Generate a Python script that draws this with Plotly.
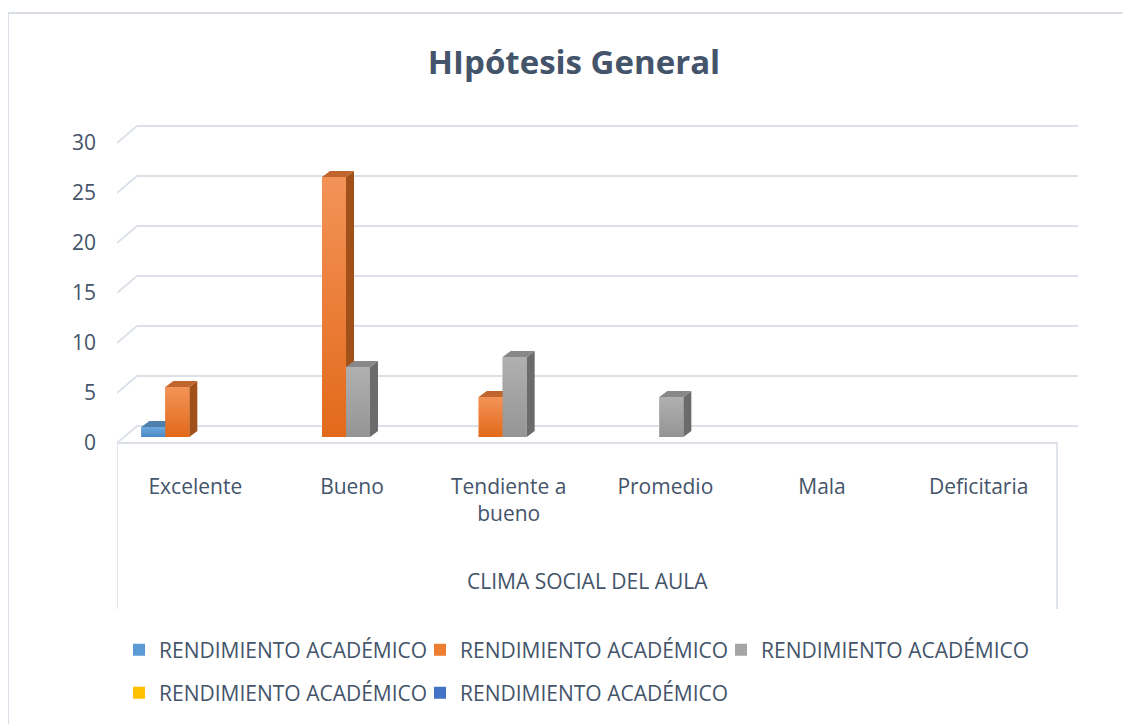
import plotly.graph_objects as go

# ---------------- data ----------------
categories = ["Excelente", "Bueno", "Tendiente a<br>bueno", "Promedio", "Mala", "Deficitaria"]
series_names = ["RENDIMIENTO ACADÉMICO"] * 5
s1 = [1, 0, 0, 0, 0, 0]
s2 = [5, 26, 4, 0, 0, 0]
s3 = [0, 7, 8, 4, 0, 0]
s4 = [0, 0, 0, 0, 0, 0]
s5 = [0, 0, 0, 0, 0, 0]
series_values = [s1, s2, s3, s4, s5]
y_ticks = [0, 5, 10, 15, 20, 25, 30]
title_text = "HIpótesis General"
x_title = "CLIMA SOCIAL DEL AULA"

# ---------------- styles ----------------
front_cols = ["#5B9BD5", "#ED7D31", "#A5A5A5", "#FFC000", "#4472C4"]
front_top = ["#6EA9DE", "#F39358", "#B0B0B0", "#FFCB33", "#5A86D0"]
front_bot = ["#4A89C6", "#E2691A", "#959595", "#EBB000", "#3A64B0"]
side_cols = ["#3C6E9C", "#A1501A", "#6B6B6B", "#B58800", "#2E4F8C"]
topf_cols = ["#4F80AD", "#C1652E", "#888888", "#CC9A00", "#3A5E9E"]
TXT = "#44546A"
GRID = "#DCE1E9"
FONT = "Open Sans"
FS = 21

OFF = 8  # page body margin
W, H = 1131, 724
# plot area in page coordinates
PL, PR, PT, PB = 117, 1078, 123, 613
L = PL - OFF
T = PT - OFF
R = W - (PR - OFF)
B = H - (PB - OFF)
PW = PR - PL
PH = PB - PT
PXX = 156.67          # px per category
PXY = 10.0            # px per value unit
bar_w = 24 / PXX
ddx, ddy = 8 / PXX, 0.6           # bar depth projection
bdx, bdy = 20 / PXX, 1.7          # floor depth projection
base0 = 0.6
x_end = PW / PXX
y_lo = -17.0
y_hi = y_lo + PH / PXY

def py(page_y):
    return (PB - page_y) / PH

def px(page_x):
    return (page_x - PL) / PW

fig = go.Figure()

# back gridlines + left diagonals
gx, gy = [], []
for v in y_ticks:
    gx += [0, bdx, x_end, None]
    gy += [v, v + bdy, v + bdy, None]
fig.add_trace(go.Scatter(x=gx, y=gy, mode="lines", line=dict(color=GRID, width=1.8),
                         hoverinfo="skip", showlegend=False))
# floor front edge / category box
fig.add_trace(go.Scatter(x=[0, 0, len(categories), len(categories)],
                         y=[-16.6, 0, 0, -16.6], mode="lines",
                         line=dict(color=GRID, width=1.8), hoverinfo="skip", showlegend=False))

xc = [i + 0.5 for i in range(len(categories))]

def offs(k):
    return (6 + (k - 2) * 24) / PXX - bar_w / 2

legend_ids = ["legend", "legend2", "legend3", "legend4", "legend5"]
# text start positions (page px) for each legend entry
legend_pos = [(159, 650), (460, 650), (761, 650), (159, 693), (460, 693)]

# bar traces (legend + front faces)
for k, vals in enumerate(series_values):
    fig.add_trace(go.Bar(x=xc, y=vals, base=base0, width=bar_w, offset=offs(k),
                         marker=dict(color=front_cols[k], line=dict(width=0)),
                         name=series_names[k], legend=legend_ids[k]))

# 3D faces (painter's order)
for i in range(len(categories)):
    for k, vals in enumerate(series_values):
        v = vals[i]
        if v == 0:
            continue
        x0 = xc[i] + offs(k)
        x1 = x0 + bar_w
        y0 = base0
        y1 = base0 + v
        fig.add_trace(go.Scatter(x=[x1, x1 + ddx, x1 + ddx, x1, x1],
                                 y=[y0, y0 + ddy, y1 + ddy, y1, y0],
                                 fill="toself", fillcolor=side_cols[k], mode="lines",
                                 line=dict(width=0, color=side_cols[k]),
                                 hoverinfo="skip", showlegend=False))
        fig.add_trace(go.Scatter(x=[x0, x0 + ddx, x1 + ddx, x1, x0],
                                 y=[y1, y1 + ddy, y1 + ddy, y1, y1],
                                 fill="toself", fillcolor=topf_cols[k], mode="lines",
                                 line=dict(width=0, color=topf_cols[k]),
                                 hoverinfo="skip", showlegend=False))
        fig.add_trace(go.Scatter(x=[x0, x1, x1, x0, x0],
                                 y=[y0, y0, y1, y1, y0],
                                 fill="toself", mode="lines",
                                 fillgradient=dict(type="vertical",
                                                   colorscale=[[0, front_bot[k]], [1, front_top[k]]]),
                                 line=dict(width=0, color=front_cols[k]),
                                 hoverinfo="skip", showlegend=False))

fig.add_annotation(x=3.0, y=-13.8, xref="x", yref="y", text=x_title, showarrow=False,
                   font=dict(family=FONT, size=FS, color=TXT))

fig.add_shape(type="rect", xref="paper", yref="paper",
              x0=px(8), x1=1.3, y0=-0.5, y1=py(13),
              line=dict(color="#D9DEE7", width=2), layer="below")

legends = {}
for lid, (tx, ty) in zip(legend_ids, legend_pos):
    legends[lid] = dict(orientation="h", x=px(tx - 40), xanchor="left",
                        y=py(ty), yanchor="middle",
                        font=dict(family=FONT, size=FS, color=TXT),
                        bgcolor="rgba(0,0,0,0)")

fig.update_layout(
    width=W, height=H,
    margin=dict(l=L, r=R, t=T, b=B, autoexpand=False),
    paper_bgcolor="white", plot_bgcolor="white",
    barmode="overlay",
    title=dict(text=f"<b>{title_text}</b>", x=(574 - OFF) / W, xref="container", xanchor="center",
               y=1 - (62 - OFF) / H, yref="container", yanchor="middle",
               font=dict(family=FONT, size=33, color=TXT)),
    xaxis=dict(range=[0, x_end], tickvals=xc, ticktext=categories, anchor="free",
               position=py(443), showgrid=False, zeroline=False,
               showline=False, ticks="", ticklabelstandoff=29,
               tickfont=dict(family=FONT, size=FS, color=TXT), fixedrange=True),
    yaxis=dict(range=[y_lo, y_hi], tickvals=y_ticks, showgrid=False, zeroline=False,
               showline=False, ticks="", ticklabelstandoff=20,
               tickfont=dict(family=FONT, size=FS, color=TXT), fixedrange=True),
    **legends,
)

fig.write_html("out.html")
